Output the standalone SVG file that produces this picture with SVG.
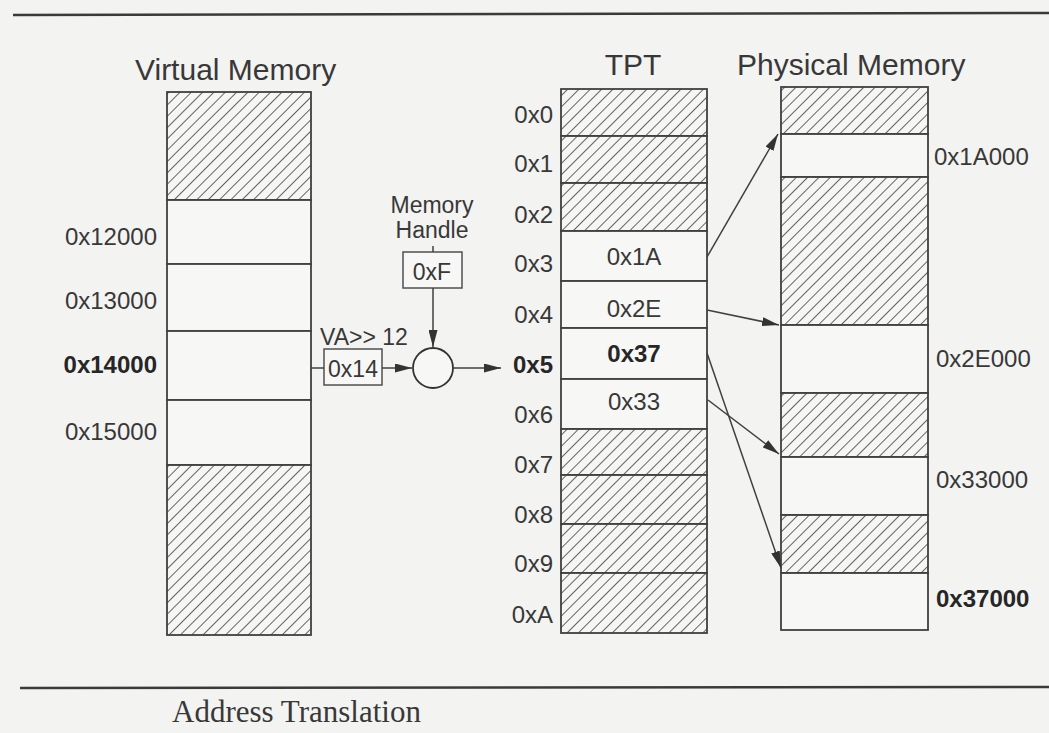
<svg xmlns="http://www.w3.org/2000/svg" width="1049" height="733" viewBox="0 0 1049 733">
  <defs>
    <pattern id="hatch" width="8" height="8" patternUnits="userSpaceOnUse" patternTransform="rotate(45)">
      <rect width="8" height="8" fill="#f6f6f4"/>
      <line x1="0" y1="0" x2="0" y2="8" stroke="#333" stroke-width="1.5"/>
    </pattern>
    <marker id="arr" markerUnits="userSpaceOnUse" markerWidth="17" markerHeight="9" viewBox="0 0 17 9" refX="17" refY="4.5" orient="auto">
      <path d="M0,0 L17,4.5 L0,9 Z" fill="#333"/>
    </marker>
    <style>
      .t { font-family: "Liberation Sans", Arial, sans-serif; fill: #383838; }
      .title { font-size: 30px; }
      .lbl { font-size: 24px; }
      .sm { font-size: 23px; }
      .b { font-weight: bold; fill: #262626; }
      .cap { font-family: "Liberation Serif", "Times New Roman", serif; font-size: 31px; fill: #383838; }
      .blank { fill: #f7f7f5; stroke: #404040; stroke-width: 1.8; }
      .hat { fill: url(#hatch); stroke: #404040; stroke-width: 1.8; }
      .box { fill: #f7f7f5; stroke: #505050; stroke-width: 1.5; }
      .conn { stroke: #404040; stroke-width: 1.5; fill: none; }
      .rule { stroke: #3a3a3a; stroke-width: 2.5; }
    </style>
  </defs>
  <rect width="1049" height="733" fill="#f3f3f1"/>
  <line class="rule" x1="13" y1="15" x2="1049" y2="13"/>
  <line class="rule" x1="20" y1="688" x2="1049" y2="687"/>
  <text class="cap" x="172" y="722">Address Translation</text>

  <g id="virtual-memory">
    <text class="t title" x="135" y="80">Virtual Memory</text>
    <rect class="hat" x="167" y="92" width="144" height="108"/>
    <rect class="blank" x="167" y="200" width="144" height="64"/>
    <rect class="blank" x="167" y="264" width="144" height="67"/>
    <rect class="blank" x="167" y="331" width="144" height="69"/>
    <rect class="blank" x="167" y="400" width="144" height="65"/>
    <rect class="hat" x="167" y="465" width="144" height="170"/>
    <text class="t lbl" x="157" y="245" text-anchor="end">0x12000</text>
    <text class="t lbl" x="157" y="309" text-anchor="end">0x13000</text>
    <text class="t lbl b" x="157" y="373" text-anchor="end">0x14000</text>
    <text class="t lbl" x="157" y="440" text-anchor="end">0x15000</text>
  </g>

  <g id="va-shift">
    <text class="t sm" x="320" y="345">VA&gt;&gt; 12</text>
    <rect class="box" x="324" y="349" width="58" height="36"/>
    <text class="t sm" x="353" y="377" text-anchor="middle">0x14</text>
  </g>

  <g id="memory-handle">
    <text class="t sm" x="432" y="213" text-anchor="middle">Memory</text>
    <text class="t sm" x="432" y="238" text-anchor="middle">Handle</text>
    <rect class="box" x="403" y="252" width="59" height="36"/>
    <text class="t sm" x="432" y="280" text-anchor="middle">0xF</text>
  </g>

  <g id="combine">
    <circle cx="433" cy="368" r="20" fill="#f7f7f5" stroke="#333" stroke-width="1.8"/>
  </g>

  <g id="tpt">
    <text class="t title" x="633" y="75" text-anchor="middle">TPT</text>
    <rect class="hat" x="561" y="89" width="146" height="47"/>
    <rect class="hat" x="561" y="136" width="146" height="47"/>
    <rect class="hat" x="561" y="183" width="146" height="48"/>
    <rect class="blank" x="561" y="231" width="146" height="50"/>
    <rect class="blank" x="561" y="281" width="146" height="47"/>
    <rect class="blank" x="561" y="328" width="146" height="51"/>
    <rect class="blank" x="561" y="379" width="146" height="50"/>
    <rect class="hat" x="561" y="429" width="146" height="46"/>
    <rect class="hat" x="561" y="475" width="146" height="49"/>
    <rect class="hat" x="561" y="524" width="146" height="49"/>
    <rect class="hat" x="561" y="573" width="146" height="60"/>
    <text class="t lbl" x="553" y="123" text-anchor="end">0x0</text>
    <text class="t lbl" x="553" y="172" text-anchor="end">0x1</text>
    <text class="t lbl" x="553" y="223" text-anchor="end">0x2</text>
    <text class="t lbl" x="553" y="272" text-anchor="end">0x3</text>
    <text class="t lbl" x="553" y="323" text-anchor="end">0x4</text>
    <text class="t lbl b" x="553" y="373" text-anchor="end">0x5</text>
    <text class="t lbl" x="553" y="423" text-anchor="end">0x6</text>
    <text class="t lbl" x="553" y="473" text-anchor="end">0x7</text>
    <text class="t lbl" x="553" y="523" text-anchor="end">0x8</text>
    <text class="t lbl" x="553" y="572" text-anchor="end">0x9</text>
    <text class="t lbl" x="553" y="623" text-anchor="end">0xA</text>
    <text class="t lbl" x="634" y="265" text-anchor="middle">0x1A</text>
    <text class="t lbl" x="634" y="317" text-anchor="middle">0x2E</text>
    <text class="t lbl b" x="634" y="362" text-anchor="middle">0x37</text>
    <text class="t lbl" x="634" y="410" text-anchor="middle">0x33</text>
  </g>

  <g id="physical-memory">
    <text class="t title" x="737" y="75">Physical Memory</text>
    <rect class="hat" x="781" y="87" width="147" height="47"/>
    <rect class="blank" x="781" y="134" width="147" height="43"/>
    <rect class="hat" x="781" y="177" width="147" height="148"/>
    <rect class="blank" x="781" y="325" width="147" height="68"/>
    <rect class="hat" x="781" y="393" width="147" height="64"/>
    <rect class="blank" x="781" y="457" width="147" height="58"/>
    <rect class="hat" x="781" y="515" width="147" height="58"/>
    <rect class="blank" x="781" y="573" width="147" height="57"/>
    <text class="t lbl" x="934" y="165">0x1A000</text>
    <text class="t lbl" x="936" y="367">0x2E000</text>
    <text class="t lbl" x="936" y="488">0x33000</text>
    <text class="t lbl b" x="936" y="607">0x37000</text>
  </g>

  <g id="connectors">
    <line class="conn" x1="311" y1="368" x2="324" y2="368"/>
    <line class="conn" x1="382" y1="368" x2="412" y2="368" marker-end="url(#arr)"/>
    <line class="conn" x1="433" y1="246" x2="433" y2="252"/>
    <line class="conn" x1="433" y1="288" x2="433" y2="347" marker-end="url(#arr)"/>
    <line class="conn" x1="453" y1="368" x2="501" y2="368" marker-end="url(#arr)"/>
    <line class="conn" x1="707" y1="257" x2="778" y2="134" marker-end="url(#arr)"/>
    <line class="conn" x1="707" y1="310" x2="779" y2="325" marker-end="url(#arr)"/>
    <line class="conn" x1="707" y1="353" x2="781" y2="568" marker-end="url(#arr)"/>
    <line class="conn" x1="708" y1="400" x2="779" y2="454" marker-end="url(#arr)"/>
  </g>
</svg>
